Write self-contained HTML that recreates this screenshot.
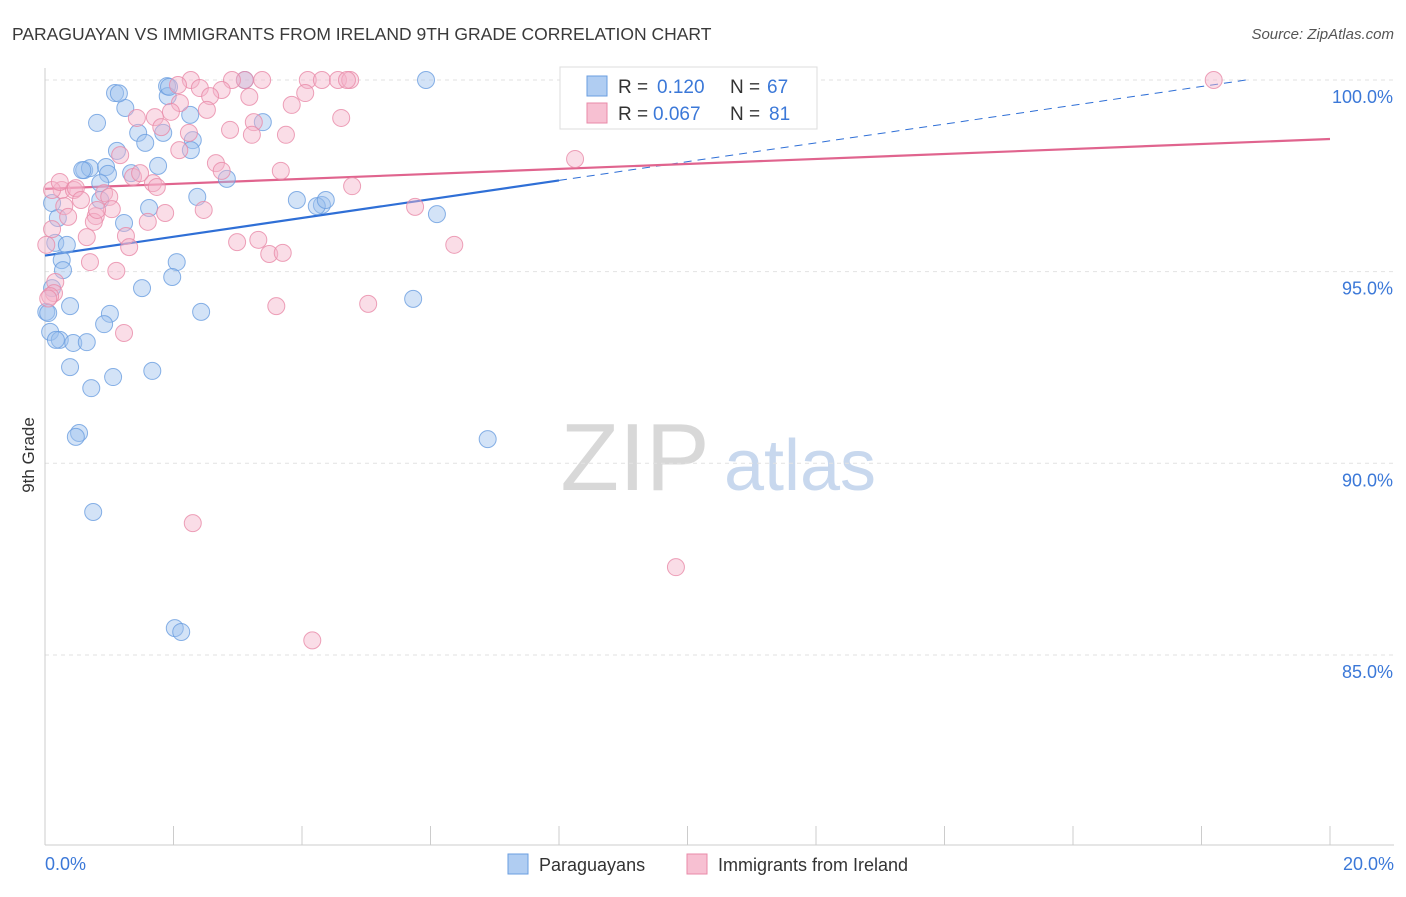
<!DOCTYPE html>
<html><head><meta charset="utf-8"><style>
body{margin:0;background:#fff;font-family:"Liberation Sans",sans-serif}
svg text{font-family:"Liberation Sans",sans-serif}
</style></head><body>
<svg id="chart" width="1406" height="892" xmlns="http://www.w3.org/2000/svg">
<text x="12" y="40" font-size="17.5" fill="#3a3a3a">PARAGUAYAN VS IMMIGRANTS FROM IRELAND 9TH GRADE CORRELATION CHART</text>
<text x="1394" y="39" font-size="15" fill="#555" text-anchor="end" font-style="italic">Source: ZipAtlas.com</text>
<g>
<text x="635" y="490" font-size="96" fill="#d8d8d8" text-anchor="middle" font-family="Liberation Serif, serif">ZIP</text>
<text x="800" y="490" font-size="72" fill="#c8d8ee" text-anchor="middle">atlas</text>
</g>
<g id="grid"></g><g id="axes"></g><g id="lines"></g><g id="points"></g>
<text transform="translate(34,455) rotate(-90)" font-size="17" fill="#333" text-anchor="middle">9th Grade</text>
<g>
<rect x="560" y="67" width="257" height="62" fill="#fff" stroke="#ddd"/>
<rect x="587" y="76" width="20" height="20" fill="#b0cdf2" stroke="#6a9ee0"/>
<rect x="587" y="103" width="20" height="20" fill="#f7c0d2" stroke="#e88aa8"/>
<text x="618" y="93" font-size="19" fill="#333">R =</text>
<text x="657" y="93" font-size="19" fill="#3b78d8">0.120</text>
<text x="730" y="93" font-size="19" fill="#333">N =</text>
<text x="767" y="93" font-size="19" fill="#3b78d8">67</text>
<text x="618" y="120" font-size="19" fill="#333">R =</text>
<text x="653" y="120" font-size="19" fill="#3b78d8">0.067</text>
<text x="730" y="120" font-size="19" fill="#333">N =</text>
<text x="769" y="120" font-size="19" fill="#3b78d8">81</text>
</g>
<g>
<rect x="508" y="854" width="20" height="20" fill="#b0cdf2" stroke="#6a9ee0"/>
<text x="539" y="871" font-size="18" fill="#333">Paraguayans</text>
<rect x="687" y="854" width="20" height="20" fill="#f7c0d2" stroke="#e88aa8"/>
<text x="718" y="871" font-size="18" fill="#333">Immigrants from Ireland</text>
</g>
</svg>
<script>
const blueX=[1.09,1.90,5.93,1.25,0.81,1.91,2.26,1.45,1.84,1.56,2.30,3.39,1.12,2.27,1.76,0.61,0.70,0.95,0.98,1.34,2.83,0.86,0.11,1.62,2.37,3.92,4.31,4.23,4.37,6.10,0.86,0.20,1.23,0.16,0.34,0.26,0.28,2.05,1.98,1.51,0.11,0.39,1.01,0.92,2.43,5.73,0.08,0.23,0.44,0.65,0.39,1.06,1.67,0.72,0.53,0.48,6.89,0.75,2.02,2.12,0.58,0.02,3.11,0.05,0.17,1.93,1.15];
const blueY=[99.66,99.84,100.0,99.27,98.88,99.58,99.09,98.62,98.62,98.36,98.43,98.90,98.15,98.17,97.76,97.65,97.70,97.73,97.55,97.57,97.42,97.31,96.79,96.66,96.95,96.87,96.74,96.71,96.87,96.50,96.87,96.40,96.27,95.75,95.70,95.30,95.04,95.25,94.86,94.57,94.57,94.10,93.90,93.63,93.95,94.29,93.43,93.22,93.14,93.16,92.51,92.25,92.41,91.96,90.79,90.69,90.63,88.73,85.70,85.60,97.65,93.95,100.0,93.92,93.22,99.82,99.65];
const pinkX=[2.27,3.11,3.38,2.91,4.09,4.31,4.56,4.75,4.70,11.21,18.19,2.07,2.41,2.75,2.57,2.10,3.18,3.84,4.05,2.52,1.96,1.71,1.43,4.61,3.25,2.88,2.24,1.81,3.75,3.22,1.17,2.09,2.66,2.75,3.67,8.25,1.37,1.68,1.74,4.78,0.26,0.45,0.48,0.92,1.00,0.56,0.30,1.04,1.87,2.47,5.76,0.36,0.79,0.76,1.60,0.11,1.26,0.65,2.99,3.32,1.31,3.49,3.70,6.37,0.70,1.11,0.16,0.14,0.08,3.60,5.03,1.23,2.30,9.82,4.16,0.02,0.11,1.48,0.23,0.81,0.05];
const pinkY=[100.0,100.0,100.0,100.0,100.0,100.0,100.0,100.0,100.0,100.0,100.0,99.87,99.79,99.74,99.58,99.40,99.56,99.35,99.66,99.22,99.17,99.03,99.01,99.01,98.90,98.70,98.62,98.77,98.57,98.57,98.04,98.17,97.83,97.63,97.63,97.94,97.47,97.31,97.21,97.23,97.13,97.13,97.18,97.05,96.95,96.87,96.71,96.63,96.53,96.61,96.69,96.43,96.45,96.30,96.30,96.11,95.93,95.90,95.77,95.83,95.64,95.46,95.49,95.70,95.25,95.02,94.73,94.44,94.36,94.10,94.16,93.40,88.44,87.29,85.38,95.70,97.13,97.57,97.34,96.61,94.30];
const yTicks=[100,95,90,85];
const xTickVals=[0,2,4,6,8,10,12,14,16,18,20];
const blueLine=[95.42,0.245];
const pinkLine=[97.16,0.065];
const NS="http://www.w3.org/2000/svg";
const sx=v=>45+v*64.25, sy=v=>80+(100-v)*38.33;
function mk(tag,attrs,parent){const e=document.createElementNS(NS,tag);for(const k in attrs)e.setAttribute(k,attrs[k]);document.getElementById(parent).appendChild(e);return e;}
yTicks.forEach(t=>{
 const l=mk('line',{x1:45,x2:1394,y1:sy(t),y2:sy(t),stroke:'#e2e2e2','stroke-dasharray':'4,4'},'grid');
 
 
 const tx=mk('text',{x:1393,y:sy(t)+23,'font-size':18,fill:'#3b78d8','text-anchor':'end'},'grid');
 tx.textContent=t.toFixed(1)+'%';
 
 
});
const ax=mk('line',{x1:45,x2:45,y1:68,y2:845,stroke:'#ccc'},'axes');


const bx=mk('line',{x1:45,x2:1394,y1:845,y2:845,stroke:'#ccc'},'axes');


xTickVals.forEach(t=>{
 const l=mk('line',{x1:sx(t),x2:sx(t),y1:826,y2:845,stroke:'#ccc'},'axes');
 
 
});
[[0,'start',45],[20,'end',1394]].forEach(([v,a,x])=>{
 const t=mk('text',{x:x,y:870,'font-size':18,fill:'#3b78d8','text-anchor':a},'axes');
 t.textContent=v.toFixed(1)+'%';
 
 
});
function addPts(xs,ys,fill,stroke,name){xs.forEach((x,i)=>{
 const c=mk('circle',{cx:sx(x),cy:sy(ys[i]),r:8.5,fill:fill,'fill-opacity':0.45,stroke:stroke,'stroke-opacity':0.8,'stroke-width':1},'points');
 
 
});}
addPts(blueX,blueY,'#9ec0ee','#6a9ee0','paraguayan-point');
addPts(pinkX,pinkY,'#f5b3c9','#e88aa8','ireland-point');
const bEnd=(100-blueLine[0])/blueLine[1];
const bl=mk('line',{x1:sx(0),y1:sy(blueLine[0]),x2:sx(8),y2:sy(blueLine[0]+8*blueLine[1]),stroke:'#2f6fd6','stroke-width':2.2},'lines');


const bd=mk('line',{x1:sx(8),y1:sy(blueLine[0]+8*blueLine[1]),x2:sx(bEnd),y2:sy(100),stroke:'#2f6fd6','stroke-width':1,'stroke-dasharray':'8,6'},'lines');


const pl=mk('line',{x1:sx(0),y1:sy(pinkLine[0]),x2:sx(20),y2:sy(pinkLine[0]+20*pinkLine[1]),stroke:'#e0648e','stroke-width':2.2},'lines');


</script>
</body></html>
